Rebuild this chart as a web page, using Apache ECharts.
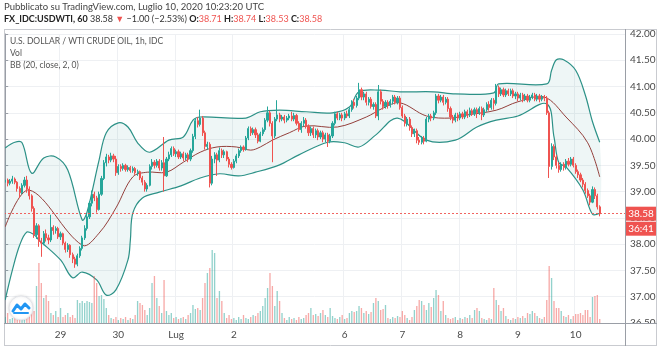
<!DOCTYPE html>
<html><head><meta charset="utf-8">
<script src="https://cdn.jsdelivr.net/npm/echarts@6/dist/echarts.min.js"></script>
<style>html,body{margin:0;padding:0;background:#fff}#c{width:660px;height:348px}</style>
</head><body><div id="c"></div>
<script>
// ---- data ----
// candles: [open, close, low, high], hourly bars
const candles = [
[39.18,39.22,39.12,39.27],[39.22,39.16,39.10,39.25],[39.16,39.20,39.12,39.24],[39.20,39.24,39.15,39.30],
[39.24,39.18,39.14,39.27],[39.18,39.06,39.00,39.20],[39.06,38.98,38.88,39.10],[38.98,39.12,38.95,39.16],
[39.12,39.22,39.08,39.28],[39.22,39.05,38.98,39.30],[39.05,38.92,38.85,39.10],[38.92,38.68,38.62,38.95],
[38.68,38.18,38.12,38.72],[38.18,38.35,38.10,38.40],[38.35,38.05,37.95,38.38],[38.05,38.02,37.76,38.12],
[38.02,38.20,37.98,38.25],[38.20,38.12,38.05,38.28],[38.12,38.08,38.00,38.18],[38.08,38.32,38.04,38.56],
[38.32,38.26,38.18,38.36],[38.26,38.30,38.20,38.34],[38.30,38.14,38.10,38.33],[38.14,38.20,38.08,38.24],
[38.20,38.02,37.98,38.22],[38.02,37.90,37.84,38.05],[37.90,37.98,37.85,38.02],[37.98,37.80,37.74,38.00],
[37.80,37.72,37.64,37.84],[37.72,37.62,37.55,37.76],[37.62,37.78,37.58,37.82],[37.78,37.92,37.74,37.96],
[37.92,38.12,37.88,38.16],[38.12,38.30,38.08,38.36],[38.30,38.52,38.26,38.58],[38.52,38.78,38.48,38.82],
[38.78,38.95,38.72,39.02],[38.95,38.88,38.82,39.00],[38.88,38.66,38.60,38.92],[38.66,38.95,38.64,39.00],
[38.95,39.25,38.92,39.30],[39.25,39.55,39.22,39.60],[39.55,39.66,39.48,39.72],[39.66,39.60,39.54,39.70],
[39.60,39.68,39.56,39.74],[39.68,39.62,39.56,39.72],[39.62,39.36,39.30,39.68],[39.36,39.48,39.32,39.52],
[39.48,39.44,39.38,39.52],[39.44,39.50,39.40,39.54],[39.50,39.42,39.38,39.53],[39.42,39.46,39.38,39.50],
[39.46,39.40,39.36,39.49],[39.40,39.44,39.36,39.48],[39.44,39.36,39.32,39.47],[39.36,39.38,39.30,39.42],
[39.38,39.26,39.22,39.40],[39.26,39.18,39.12,39.30],[39.18,39.05,39.00,39.22],[39.05,39.12,39.00,39.16],
[39.12,39.48,39.10,39.52],[39.48,39.56,39.42,39.62],[39.56,39.50,39.44,39.60],[39.50,39.58,39.46,39.62],
[39.58,39.45,39.40,39.62],[39.45,39.55,39.40,39.60],[39.55,39.30,39.00,40.04],[39.30,39.62,39.28,39.66],
[39.62,39.70,39.58,39.76],[39.70,39.82,39.66,39.86],[39.82,39.72,39.68,39.86],[39.72,39.76,39.66,39.80],
[39.76,39.66,39.62,39.80],[39.66,39.72,39.62,39.76],[39.72,39.64,39.58,39.76],[39.64,39.70,39.60,39.74],
[39.70,39.62,39.56,39.74],[39.62,39.78,39.58,39.82],[39.78,40.05,39.74,40.10],[40.05,40.35,40.00,40.40],
[40.35,40.28,40.22,40.42],[40.28,40.40,40.24,40.56],[40.40,40.12,40.06,40.44],[40.12,39.86,39.80,40.16],
[39.86,39.90,39.80,39.95],[39.90,39.16,39.08,39.94],[39.16,39.62,39.12,39.68],[39.62,39.70,39.54,39.75],
[39.70,39.60,39.30,39.74],[39.60,39.78,39.56,39.84],[39.78,39.70,39.64,39.82],[39.70,39.76,39.64,39.80],
[39.76,39.62,39.58,39.78],[39.62,39.52,39.46,39.66],[39.52,39.46,39.42,39.56],[39.46,39.58,39.44,39.62],
[39.58,39.68,39.54,39.72],[39.68,39.78,39.64,39.82],[39.78,39.85,39.74,39.88],[39.85,39.80,39.76,39.88],
[39.80,40.02,39.78,40.06],[40.02,40.20,39.98,40.24],[40.20,40.12,40.06,40.24],[40.12,40.18,40.08,40.22],
[40.18,40.08,40.02,40.22],[40.08,39.96,39.92,40.12],[39.96,40.10,39.94,40.14],[40.10,40.18,40.06,40.22],
[40.18,40.36,40.14,40.40],[40.36,40.50,40.32,40.62],[40.50,40.30,40.24,40.54],[40.30,40.06,39.56,40.34],
[40.06,40.38,40.02,40.42],[40.38,40.46,40.34,40.74],[40.46,40.38,40.32,40.50],[40.38,40.42,40.34,40.46],
[40.42,40.36,40.30,40.46],[40.36,40.40,40.32,40.44],[40.40,40.44,40.36,40.48],[40.44,40.38,40.34,40.52],
[40.38,40.45,40.34,40.50],[40.45,40.30,40.26,40.48],[40.30,40.18,40.14,40.34],[40.18,40.30,40.12,40.34],
[40.30,40.36,40.24,40.42],[40.36,40.24,40.20,40.40],[40.24,40.12,40.06,40.28],[40.12,40.20,40.06,40.24],
[40.20,40.08,40.02,40.24],[40.08,40.16,40.02,40.20],[40.16,40.04,39.98,40.20],[40.04,40.12,40.00,40.16],
[40.12,40.00,39.94,40.16],[40.00,40.08,39.94,40.12],[40.08,39.96,39.85,40.12],[39.96,40.06,39.92,40.10],
[40.06,40.30,40.02,40.34],[40.30,40.48,40.26,40.52],[40.48,40.40,40.36,40.52],[40.40,40.46,40.36,40.50],
[40.46,40.40,40.34,40.50],[40.40,40.48,40.36,40.52],[40.48,40.44,40.40,40.54],[40.44,40.56,40.40,40.60],
[40.56,40.70,40.52,40.74],[40.70,40.64,40.58,40.76],[40.64,40.78,40.60,40.82],[40.78,40.94,40.74,41.07],
[40.94,40.80,40.74,40.98],[40.80,40.86,40.74,40.90],[40.86,40.70,40.64,40.90],[40.70,40.76,40.64,40.80],
[40.76,40.62,40.58,40.80],[40.62,40.66,40.56,40.70],[40.66,40.44,40.40,40.70],[40.44,40.90,40.36,41.03],
[40.90,40.72,40.66,40.94],[40.72,40.62,40.56,40.76],[40.62,40.70,40.58,40.74],[40.70,40.64,40.58,40.74],
[40.64,40.72,40.60,40.76],[40.72,40.80,40.66,40.84],[40.80,40.70,40.66,40.84],[40.70,40.78,40.66,40.82],
[40.78,40.60,40.56,40.82],[40.60,40.44,40.40,40.64],[40.44,40.30,40.24,40.48],[40.30,40.38,40.24,40.42],
[40.38,40.22,40.16,40.42],[40.22,40.10,40.04,40.26],[40.10,40.16,40.04,40.20],[40.16,39.98,39.92,40.20],
[39.98,39.94,39.89,40.04],[39.94,40.02,39.90,40.06],[40.02,39.96,39.90,40.06],[39.96,40.38,39.94,40.42],
[40.38,40.44,40.32,40.48],[40.44,40.40,40.34,40.48],[40.40,40.50,40.36,40.54],[40.50,40.82,40.46,40.86],
[40.82,40.74,40.68,40.86],[40.74,40.80,40.70,40.84],[40.80,40.70,40.64,40.84],[40.70,40.76,40.66,40.80],
[40.76,40.58,40.52,40.80],[40.58,40.42,40.36,40.62],[40.42,40.36,40.30,40.46],[40.36,40.46,40.32,40.50],
[40.46,40.40,40.34,40.50],[40.40,40.48,40.36,40.52],[40.48,40.42,40.38,40.52],[40.42,40.52,40.38,40.56],
[40.52,40.46,40.40,40.56],[40.46,40.54,40.42,40.60],[40.54,40.48,40.44,40.58],[40.48,40.56,40.44,40.60],
[40.56,40.50,40.40,40.60],[40.50,40.58,40.46,40.62],[40.58,40.46,40.36,40.62],[40.46,40.56,40.42,40.60],
[40.56,40.66,40.52,40.70],[40.66,40.60,40.54,40.72],[40.60,40.74,40.56,40.78],[40.74,40.68,40.56,40.78],
[40.68,40.98,40.64,41.05],[40.98,40.86,40.80,41.02],[40.86,40.94,40.82,40.98],[40.94,40.84,40.80,40.98],
[40.84,40.92,40.80,40.96],[40.92,40.86,40.82,40.96],[40.86,40.92,40.82,40.96],[40.92,40.82,40.78,40.96],
[40.82,40.86,40.76,40.90],[40.86,40.78,40.72,40.90],[40.78,40.84,40.74,40.88],[40.84,40.76,40.70,40.88],
[40.76,40.82,40.72,40.86],[40.82,40.74,40.70,40.86],[40.74,40.80,40.70,40.84],[40.80,40.84,40.76,40.88],
[40.84,40.76,40.72,40.88],[40.76,40.82,40.72,40.86],[40.82,40.76,40.70,40.86],[40.76,40.80,40.72,40.84],
[40.80,40.78,40.72,40.84],[40.78,40.50,40.46,40.82],[40.50,39.48,39.26,40.54],[39.48,39.86,39.42,39.92],
[39.86,39.66,39.60,39.90],[39.66,39.50,39.44,39.70],[39.50,39.42,39.36,39.56],[39.42,39.52,39.38,39.56],
[39.52,39.46,39.40,39.56],[39.46,39.58,39.42,39.62],[39.58,39.52,39.48,39.64],[39.52,39.62,39.48,39.66],
[39.62,39.50,39.46,39.66],[39.50,39.38,39.34,39.54],[39.38,39.32,39.26,39.42],[39.32,39.22,39.18,39.36],
[39.22,39.14,39.08,39.26],[39.14,39.02,38.96,39.18],[39.02,38.92,38.88,39.06],[38.92,38.80,38.74,38.96],
[38.80,39.04,38.78,39.10],[39.04,38.92,38.86,39.08],[38.92,38.71,38.66,38.96],[38.71,38.58,38.53,38.74]
];
const volumes = [
6,10,4,5,5,6,5,7,8,10,14,18,12,37,60,40,25,28,22,10,8,12,6,15,6,8,10,6,8,5,
23,20,22,20,22,21,20,47,40,27,28,24,15,8,5,4,6,3,5,4,6,3,5,4,8,22,20,18,13,8,
15,40,47,25,17,10,43,12,8,10,5,6,4,5,6,4,8,10,18,14,15,13,25,40,50,55,73,70,25,32,
22,10,5,8,4,5,3,6,4,8,5,4,6,8,7,10,12,17,25,35,50,37,17,32,22,10,5,3,6,4,
5,3,6,4,5,8,10,15,8,9,7,10,13,8,6,15,7,5,4,6,8,4,5,10,12,11,12,17,15,10,
12,9,11,20,25,22,13,14,18,5,4,6,5,7,6,12,8,5,3,6,13,17,23,22,18,13,20,16,25,33,
28,12,22,8,5,4,5,6,3,5,4,6,5,8,5,13,15,12,5,4,3,5,4,35,23,18,12,15,7,4,
3,5,4,6,5,7,5,10,9,12,10,7,5,4,6,23,57,45,22,15,15,12,7,6,8,4,7,9,9,10,
8,13,13,6,26,27,28,4
];
const totalSlots = 258;
const dayIdx = [23, 47, 71, 95, 141, 165, 189, 213, 237];
const dayLabels = ['29', '30', 'Lug', '2', '6', '7', '8', '9', '10'];
const priceMin = 36.5, priceMax = 42, priceStep = 0.5;
// Bollinger bands (20, close, 2): [bar index, price]
const bbUpper = [[0,39.83],[4,39.94],[7,39.93],[11,39.35],[16,39.64],[21,39.66],[26,39.41],[32,38.46],[34,38.61],
[39,39.60],[42,40.12],[47,40.31],[51,40.23],[55,39.93],[60,39.75],[68,39.98],[74,40.04],[78,40.36],[81,40.42],
[100,40.40],[106,40.52],[114,40.55],[125,40.52],[136,40.50],[143,40.61],[147,40.90],[156,40.93],[164,40.90],
[178,40.90],[187,40.86],[203,40.88],[205,41.05],[225,41.05],[227,41.31],[229,41.51],[232,41.51],[237,41.31],
[241,40.84],[244,40.33],[247,39.94]];
const bbMiddle = [[0,38.33],[10,39.03],[32,37.98],[39,38.21],[46,38.69],[53,39.28],[59,39.37],[67,39.37],
[74,39.56],[81,39.75],[88,39.85],[96,39.85],[102,39.79],[106,39.85],[111,39.98],[118,40.12],[125,40.25],
[138,40.23],[150,40.42],[157,40.59],[164,40.69],[175,40.44],[185,40.40],[192,40.46],[204,40.55],[213,40.71],
[224,40.80],[233,40.42],[242,39.93],[247,39.28]];
const bbLower = [[0,36.94],[3,37.51],[6,37.98],[9,38.23],[12,38.18],[14,38.08],[23,37.70],[28,37.36],[32,37.47],
[38,37.32],[42,37.03],[46,37.13],[51,37.70],[52,38.08],[53,38.59],[57,38.88],[64,38.99],[73,39.11],[81,39.26],
[89,39.34],[97,39.30],[104,39.37],[114,39.51],[122,39.70],[134,39.94],[141,39.93],[147,39.85],[154,40.08],
[163,40.40],[175,39.98],[187,39.98],[196,40.23],[204,40.36],[213,40.44],[225,40.67],[228,40.04],[230,39.55],
[233,39.47],[240,39.03],[244,38.57],[247,38.59]];
const lastPrice = 38.58;
const countdown = '36:41';
const titleLine1 = 'Pubblicato su TradingView.com, Luglio 10, 2020 10:23:20 UTC';
const symbolName = 'U.S. DOLLAR / WTI CRUDE OIL, 1h, IDC';

// ---- chart ----
const UP = '#26a69a', DOWN = '#ef5350';
const FONT = 'Lato, "Open Sans", sans-serif';
const chart = echarts.init(document.getElementById('c'), null, {renderer: 'canvas'});
const slots = Array.from({length: totalSlots}, (_, i) => String(i));
const isDay = i => dayIdx.indexOf(i) >= 0;
const volData = volumes.map((v, i) => ({
  value: v,
  itemStyle: {color: (candles[i] && candles[i][1] >= candles[i][0]) ? 'rgba(38,166,154,0.5)' : 'rgba(239,83,80,0.5)'}
}));

const option = {
  animation: false,
  backgroundColor: '#fff',
  textStyle: {fontFamily: FONT},
  grid: {left: 4, right: 35, top: 34, bottom: 25, containLabel: false},
  xAxis: [{
    type: 'category', data: slots, boundaryGap: true,
    axisLine: {show: false}, axisTick: {show: false},
    axisLabel: {
      interval: (i) => isDay(i), color: '#4a4a4a', fontSize: 10, margin: 7, fontFamily: FONT,
      formatter: (v, i) => { const k = dayIdx.indexOf(Number(v)); return k >= 0 ? dayLabels[k] : ''; }
    },
    splitLine: {show: true, interval: (i) => isDay(i), lineStyle: {color: '#eef0f3', width: 1}}
  }, {
    type: 'value', min: -0.5, max: totalSlots - 0.5, show: false
  }],
  yAxis: [{
    type: 'value', position: 'right', min: priceMin, max: priceMax, interval: priceStep, scale: true,
    axisLine: {show: true, lineStyle: {color: '#9a9ea6'}},
    axisTick: {show: true, length: 3, lineStyle: {color: '#9a9ea6'}},
    axisLabel: {color: '#4a4a4a', fontSize: 10, margin: 5, fontFamily: FONT, formatter: v => v.toFixed(2)},
    splitLine: {show: true, lineStyle: {color: '#eef0f3', width: 1}}
  }, {
    type: 'value', min: 0, max: 289, show: false, splitLine: {show: false}
  }],
  series: [{
    type: 'custom', xAxisIndex: 1, yAxisIndex: 0, data: [0], silent: true, z: 1, clip: false,
    renderItem: (params, api) => {
      const up = bbUpper.map(d => api.coord(d));
      const mid = bbMiddle.map(d => api.coord(d));
      const lo = bbLower.map(d => api.coord(d));
      return {type: 'group', children: [
        {type: 'polygon', shape: {points: up.concat(lo.slice().reverse()), smooth: 0.35},
         style: {fill: 'rgba(25,135,135,0.075)', stroke: null}},
        {type: 'polyline', shape: {points: up, smooth: 0.35}, style: {stroke: '#2c9187', lineWidth: 1.2, fill: null}},
        {type: 'polyline', shape: {points: lo, smooth: 0.35}, style: {stroke: '#2c9187', lineWidth: 1.2, fill: null}},
        {type: 'polyline', shape: {points: mid, smooth: 0.35}, style: {stroke: '#94403c', lineWidth: 1, fill: null}}
      ]};
    }
  }, {
    type: 'bar', xAxisIndex: 0, yAxisIndex: 1, data: volData, barWidth: '55%', z: 2, silent: true
  }, {
    type: 'candlestick', xAxisIndex: 0, yAxisIndex: 0, data: candles, barWidth: '68%', z: 3, silent: true,
    itemStyle: {color: UP, color0: DOWN, borderColor: UP, borderColor0: DOWN, borderWidth: 1},
    markLine: {
      symbol: 'none', silent: true, label: {show: false},
      lineStyle: {type: [2, 2], color: '#ef5350', width: 1, opacity: 0.9},
      data: [{yAxis: lastPrice}]
    }
  }]
};
chart.setOption(option);

const py = chart.convertToPixel({yAxisIndex: 0}, lastPrice);
chart.setOption({
  graphic: [
    // frame
    {type: 'rect', z: 50, shape: {x: 626, y: 324, width: 31, height: 22}, style: {fill: '#fff'}},
    {type: 'line', z: 60, shape: {x1: 4, y1: 29.5, x2: 657, y2: 29.5}, style: {stroke: '#c9cbd0', lineWidth: 1}},
    {type: 'line', z: 60, shape: {x1: 4.5, y1: 29, x2: 4.5, y2: 346}, style: {stroke: '#c9cbd0', lineWidth: 1}},
    {type: 'line', z: 60, shape: {x1: 656.5, y1: 29, x2: 656.5, y2: 346}, style: {stroke: '#c9cbd0', lineWidth: 1}},
    {type: 'line', z: 60, shape: {x1: 4, y1: 345.5, x2: 657, y2: 345.5}, style: {stroke: '#c9cbd0', lineWidth: 1}},
    {type: 'line', z: 60, shape: {x1: 4, y1: 323.5, x2: 657, y2: 323.5}, style: {stroke: '#9a9ea6', lineWidth: 1}},
    {type: 'line', z: 60, shape: {x1: 625.5, y1: 29, x2: 625.5, y2: 346}, style: {stroke: '#9a9ea6', lineWidth: 1}},
    // header
    {type: 'text', z: 60, left: 4, top: 2, style: {text: titleLine1, font: '9.5px ' + FONT, fill: '#444'}},
    {type: 'text', z: 60, left: 4, top: 15, style: {
      text: '{b|FX_IDC:USDWTI, 60} {n|38.58} {r|▼} {n|\u22121.00 (\u22122.53%)} {b|O:}{r|38.71} {b|H:}{r|38.74} {b|L:}{r|38.53} {b|C:}{r|38.58}',
      font: '9px ' + FONT,
      rich: {
        b: {fontWeight: 'bold', fill: '#222', fontSize: 9, fontFamily: FONT},
        n: {fill: '#333', fontSize: 9, fontFamily: FONT},
        r: {fill: '#ef5350', fontSize: 9, fontFamily: FONT}
      }}},
    // legend texts
    {type: 'text', z: 60, left: 10, top: 37, style: {text: symbolName, font: '8.5px ' + FONT, fill: '#555'}},
    {type: 'text', z: 60, left: 10, top: 49, style: {text: 'Vol', font: '8.5px ' + FONT, fill: '#555'}},
    {type: 'text', z: 60, left: 10, top: 61, style: {text: 'BB (20, close, 2, 0)', font: '8.5px ' + FONT, fill: '#555'}},
    // price labels
    {type: 'rect', z: 70, shape: {x: 626, y: py - 7, width: 30, height: 14}, style: {fill: '#ef5350'}},
    {type: 'text', z: 71, x: 641, y: py, style: {text: lastPrice.toFixed(2), font: '10px ' + FONT, fill: '#fff', textAlign: 'center', textVerticalAlign: 'middle'}},
    {type: 'rect', z: 70, shape: {x: 626, y: py + 8, width: 30, height: 14}, style: {fill: '#ef5350'}},
    {type: 'text', z: 71, x: 641, y: py + 15, style: {text: countdown, font: '10px ' + FONT, fill: '#fff', textAlign: 'center', textVerticalAlign: 'middle'}},
    // logo
    {type: 'circle', z: 60, shape: {cx: 21, cy: 308, r: 12}, style: {fill: '#fff', stroke: '#e3e5ea', lineWidth: 1, shadowBlur: 3, shadowColor: 'rgba(0,0,0,0.12)'}},
    {type: 'polyline', z: 61, shape: {points: [[13, 311], [17, 305], [21, 309], [25, 304], [29, 308]]}, style: {stroke: '#2196f3', lineWidth: 3, fill: null, lineCap: 'round', lineJoin: 'round'}},
    {type: 'polyline', z: 61, shape: {points: [[14, 313], [28, 313]]}, style: {stroke: '#2196f3', lineWidth: 2, fill: null, lineCap: 'round'}}
  ]
});
</script></body></html>
